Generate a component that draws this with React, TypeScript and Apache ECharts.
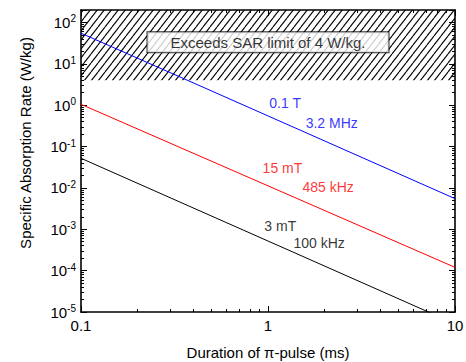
import React, { useEffect, useRef } from 'react';
import * as echarts from 'echarts';

// ---- data ----
const durations = [0.1, 10]; // ms
const sar01T = [55, 0.0055];
const sar15mT = [1.05, 1.2e-4];
const sar3mT = [0.052, 5.2e-6];
const sarLimit = 4;

const xMin = 0.1;
const xMax = 10;
const yMin = 1e-5;
const yMax = 200;
const xDecades = [-1, 0];
const yDecades = [-5, -4, -3, -2, -1, 0, 1, 2];
const minorMultipliers = [2, 3, 4, 5, 6, 7, 8, 9];

const labelTexts = ['0.1 T', '3.2 MHz', '15 mT', '485 kHz', '3 mT', '100 kHz'];
const labelX = [1.01, 1.58, 0.93, 1.52, 0.95, 1.36];
const labelY = [1.14, 0.37, 0.03, 0.0105, 0.0012, 4.6e-4];
const labelColors = ['#0000ff', '#0000ff', '#ff0000', '#ff0000', '#000000', '#000000'];

const boxText = 'Exceeds SAR limit of 4 W/kg.';
const boxX = 1.0;
const boxY = 33;

const xTitle = 'Duration of π-pulse (ms)';
const yTitle = 'Specific Absorption Rate (W/kg)';

const FONT = '"Liberation Sans", Arial, Helvetica, sans-serif';

function minorLogs(decades: number[], lo: number, hi: number) {
  const out: number[] = [];
  decades.forEach((d) => {
    minorMultipliers.forEach((k) => {
      const v = Number((k * Math.pow(10, d)).toPrecision(3));
      if (v > lo && v < hi) out.push(Math.log10(v));
    });
  });
  return out;
}

function makeHatch() {
  const w = 7;
  const h = 9;
  const c = document.createElement('canvas');
  c.width = w;
  c.height = h;
  const ctx = c.getContext('2d')!;
  ctx.strokeStyle = '#000';
  ctx.lineWidth = 1.1;
  for (const off of [-w, 0, w]) {
    ctx.beginPath();
    ctx.moveTo(off, h);
    ctx.lineTo(off + w, 0);
    ctx.stroke();
  }
  return c;
}

export default function App() {
  const ref = useRef<HTMLDivElement>(null);
  useEffect(() => {
    if (!ref.current) return;
    const chart = echarts.init(ref.current, undefined, { renderer: 'svg' });
    const xMinor = minorLogs(xDecades, xMin, xMax);
    const yMinor = minorLogs(yDecades, yMin, yMax);
    const lx0 = Math.log10(xMin);
    const lx1 = Math.log10(xMax);
    const ly0 = Math.log10(yMin);
    const ly1 = Math.log10(yMax);

    const majorTick = { show: true, inside: true, length: 6, lineStyle: { color: '#000', width: 1 } };
    const minorTick = (vals: number[]) => ({
      show: true, inside: true, length: 3, customValues: vals, lineStyle: { color: '#000', width: 1 },
    });
    const line = { show: true, onZero: false, lineStyle: { color: '#000', width: 1.6 } };
    const noLine = { show: false, onZero: false };
    const noLabel = { show: false };
    const noSplit = { show: false };

    const yFormatter = (v: number) => {
      const e = Math.log10(v);
      const r = Math.round(e);
      if (Math.abs(e - r) > 1e-3) return '';
      return `{b|10}{s|${r}}`;
    };

    const mk = (vals: number[]) => durations.map((d, i) => [d, vals[i]]);

    chart.setOption({
      animation: false,
      backgroundColor: '#fff',
      grid: { left: 81, right: 11, top: 10, bottom: 50, containLabel: false, outerBoundsMode: 'none' },
      xAxis: [
        {
          type: 'log', logBase: 10, min: xMin, max: xMax, interval: 1, position: 'bottom',
          axisLine: line, axisTick: majorTick, splitLine: noSplit,
          axisLabel: {
            show: true, color: '#000', fontSize: 15, fontFamily: FONT, margin: 6,
            showMinLabel: true, showMaxLabel: true, hideOverlap: false,
            formatter: (v: number) => String(Number(v.toPrecision(3))),
          },
          name: xTitle, nameLocation: 'middle', nameGap: 33,
          nameTextStyle: { color: '#000', fontSize: 15, fontFamily: FONT },
        },
        {
          type: 'value', min: lx0, max: lx1, position: 'bottom',
          axisLine: noLine, axisTick: minorTick(xMinor), axisLabel: noLabel, splitLine: noSplit,
        },
        {
          type: 'log', logBase: 10, min: xMin, max: xMax, interval: 1, position: 'top',
          axisLine: line, axisTick: majorTick, axisLabel: noLabel, splitLine: noSplit,
        },
        {
          type: 'value', min: lx0, max: lx1, position: 'top',
          axisLine: noLine, axisTick: minorTick(xMinor), axisLabel: noLabel, splitLine: noSplit,
        },
      ],
      yAxis: [
        {
          type: 'log', logBase: 10, min: yMin, max: yMax, interval: 1, position: 'left',
          axisLine: line, axisTick: majorTick, splitLine: noSplit,
          axisLabel: {
            show: true, margin: 5, showMinLabel: true, showMaxLabel: true, hideOverlap: false,
            formatter: yFormatter,
            rich: {
              b: { fontSize: 15, color: '#000', fontFamily: FONT, lineHeight: 17 },
              s: { fontSize: 10, color: '#000', fontFamily: FONT, lineHeight: 10, verticalAlign: 'top' },
            },
          },
        },
        {
          type: 'value', min: ly0, max: ly1, position: 'left',
          axisLine: noLine, axisTick: minorTick(yMinor), axisLabel: noLabel, splitLine: noSplit,
        },
        {
          type: 'log', logBase: 10, min: yMin, max: yMax, interval: 1, position: 'right',
          axisLine: line, axisTick: majorTick, axisLabel: noLabel, splitLine: noSplit,
        },
        {
          type: 'value', min: ly0, max: ly1, position: 'right',
          axisLine: noLine, axisTick: minorTick(yMinor), axisLabel: noLabel, splitLine: noSplit,
        },
      ],
      graphic: [
        {
          type: 'text', x: 25, y: 143, rotation: Math.PI / 2,
          style: { text: yTitle, fill: '#000', font: `15px ${FONT}`, align: 'center', verticalAlign: 'middle' },
        },
      ],
      series: [
        {
          type: 'line', name: '0.1 T', xAxisIndex: 0, yAxisIndex: 0, data: mk(sar01T),
          showSymbol: false, symbol: 'none', lineStyle: { color: '#0000ff', width: 1 }, z: 3,
          markArea: {
            silent: true,
            itemStyle: { color: { image: makeHatch(), repeat: 'repeat' }, borderWidth: 0 },
            data: [[{ coord: [xMin, sarLimit] }, { coord: [xMax, yMax] }]],
          },
        },
        {
          type: 'line', name: '15 mT', xAxisIndex: 0, yAxisIndex: 0, data: mk(sar15mT),
          showSymbol: false, symbol: 'none', lineStyle: { color: '#ff0000', width: 1 }, z: 3,
        },
        {
          type: 'line', name: '3 mT', xAxisIndex: 0, yAxisIndex: 0, data: mk(sar3mT),
          showSymbol: false, symbol: 'none', lineStyle: { color: '#000000', width: 1 }, z: 3,
        },
        {
          type: 'scatter', xAxisIndex: 0, yAxisIndex: 0, symbolSize: 1, z: 5,
          itemStyle: { color: 'rgba(0,0,0,0)' },
          data: labelTexts.map((t, i) => ({
            value: [labelX[i], labelY[i]],
            label: {
              show: true, position: 'right', distance: 0, formatter: t,
              color: labelColors[i], fontSize: 14, fontFamily: FONT,
            },
          })),
        },
        {
          type: 'scatter', xAxisIndex: 0, yAxisIndex: 0, symbolSize: 1, z: 6,
          itemStyle: { color: 'rgba(0,0,0,0)' },
          data: [{
            value: [boxX, boxY],
            label: {
              show: true, position: 'inside', formatter: boxText,
              color: '#000', fontSize: 15, fontFamily: FONT,
              backgroundColor: '#fff', borderColor: '#000', borderWidth: 1,
              padding: [3, 23, 2, 23],
            },
          }],
        },
      ],
    });
    return () => chart.dispose();
  }, []);
  return <div ref={ref} style={{ position: 'absolute', left: 0, top: 0, width: 466, height: 362 }} />;
}
